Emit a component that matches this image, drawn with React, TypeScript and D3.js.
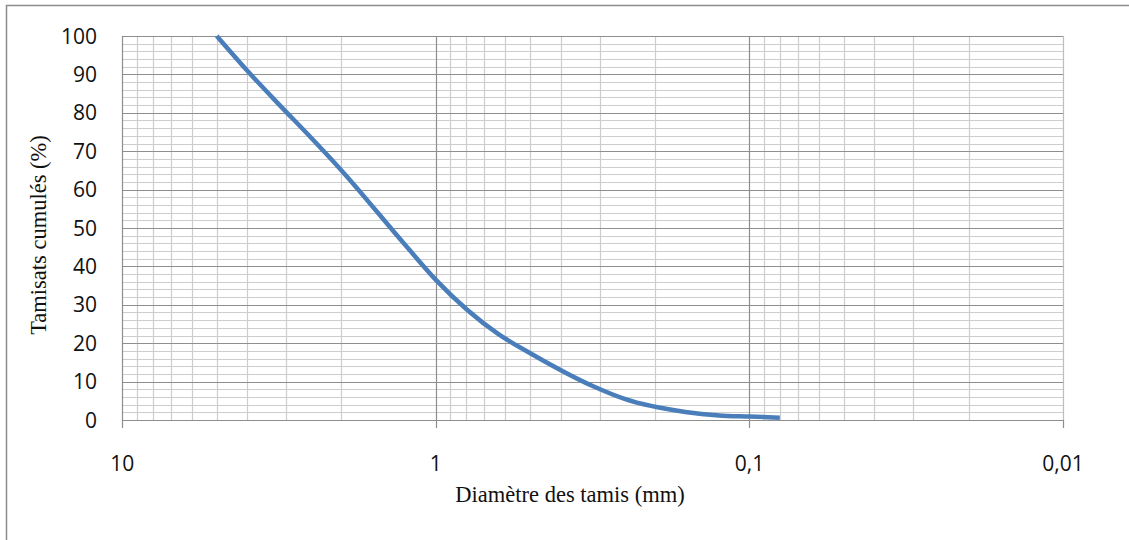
import React, { useRef, useEffect } from 'react'
import * as d3 from 'd3'

// sieve openings (mm) and cumulative passing (%)
const diametres = [5, 4, 3.15, 2.5, 2, 1.25, 1, 0.63, 0.5, 0.315, 0.25, 0.16, 0.125, 0.1, 0.08]
const tamisats = [100, 91, 82, 73.5, 65, 45.5, 36.5, 22.3, 17.4, 8.8, 5.5, 2.1, 1.2, 0.9, 0.6]

const xTicks = [10, 1, 0.1, 0.01]
const xTickLabels = ['10', '1', '0,1', '0,01']
const yTicks = [0, 10, 20, 30, 40, 50, 60, 70, 80, 90, 100]

const W = 1129
const H = 540

const Chart = () => {
  const svgRef = useRef<SVGSVGElement>(null)

  // plot area in pixels
  const left = 122.3
  const right = 1063
  const top = 36
  const bottom = 420

  useEffect(() => {
    const svg = d3.select(svgRef.current)
    svg.selectAll('*').remove()

    const x = d3.scaleLog().domain([10, 0.01]).range([left, right])
    const y = d3.scaleLinear().domain([0, 100]).range([bottom, top])

    // outer chart frame (right/bottom edges fall outside the picture)
    svg.append('rect')
      .attr('x', 6.5).attr('y', 5.5)
      .attr('width', W).attr('height', H)
      .attr('fill', 'white')
      .attr('stroke', '#8c8c8c')
      .attr('stroke-width', 1.5)

    const grid = svg.append('g')

    // minor horizontal lines every 2 %
    const yMinor = d3.range(2, 100, 2).filter((v) => v % 10 !== 0)
    grid.selectAll('.hmin')
      .data(yMinor)
      .join('line')
      .attr('x1', left).attr('x2', right)
      .attr('y1', (d) => Math.round(y(d)) + 0.5)
      .attr('y2', (d) => Math.round(y(d)) + 0.5)
      .attr('stroke', '#cdcdcd')
      .attr('stroke-width', 1.2)

    // minor vertical lines 2..9 of every decade
    const xMinor: number[] = []
    ;[0.01, 0.1, 1].forEach((dec) => {
      for (let k = 2; k <= 9; k++) xMinor.push(dec * k)
    })
    grid.selectAll('.vmin')
      .data(xMinor)
      .join('line')
      .attr('x1', (d) => Math.round(x(d)) + 0.5)
      .attr('x2', (d) => Math.round(x(d)) + 0.5)
      .attr('y1', top).attr('y2', bottom)
      .attr('stroke', '#cdcdcd')
      .attr('stroke-width', 1.2)

    // major horizontal lines
    grid.selectAll('.hmaj')
      .data(yTicks)
      .join('line')
      .attr('x1', left).attr('x2', right)
      .attr('y1', (d) => Math.round(y(d)) + 0.5)
      .attr('y2', (d) => Math.round(y(d)) + 0.5)
      .attr('stroke', '#8e8e8e')
      .attr('stroke-width', 1.2)

    // major vertical lines at the decades
    grid.selectAll('.vmaj')
      .data(xTicks)
      .join('line')
      .attr('x1', (d) => Math.round(x(d)) + 0.5)
      .attr('x2', (d) => Math.round(x(d)) + 0.5)
      .attr('y1', top).attr('y2', bottom)
      .attr('stroke', (d) => (d === 0.01 ? '#bdbdbd' : '#8e8e8e'))
      .attr('stroke-width', 1.2)

    // x tick marks below the axis
    grid.selectAll('.xtick')
      .data(xTicks)
      .join('line')
      .attr('x1', (d) => Math.round(x(d)) + 0.5)
      .attr('x2', (d) => Math.round(x(d)) + 0.5)
      .attr('y1', bottom).attr('y2', bottom + 8)
      .attr('stroke', '#8e8e8e')
      .attr('stroke-width', 1.2)

    // tick labels
    svg.selectAll('.ylab')
      .data(yTicks)
      .join('text')
      .attr('x', 97)
      .attr('y', (d) => y(d))
      .attr('dy', '0.36em')
      .attr('text-anchor', 'end')
      .attr('font-family', '"Open Sans", sans-serif')
      .attr('font-size', 21)
      .attr('fill', '#111')
      .text((d) => d)

    svg.selectAll('.xlab')
      .data(xTicks)
      .join('text')
      .attr('x', (d) => x(d))
      .attr('y', 463)
      .attr('dy', '0.36em')
      .attr('text-anchor', 'middle')
      .attr('font-family', '"Open Sans", sans-serif')
      .attr('font-size', 21)
      .attr('fill', '#111')
      .text((d, i) => xTickLabels[i])

    // axis titles
    svg.append('text')
      .attr('x', 570)
      .attr('y', 494)
      .attr('dy', '0.35em')
      .attr('text-anchor', 'middle')
      .attr('font-family', '"Liberation Serif", "Times New Roman", serif')
      .attr('font-size', 22.5)
      .attr('fill', '#111')
      .text('Diamètre des tamis (mm)')

    svg.append('text')
      .attr('transform', 'translate(38,235) rotate(-90)')
      .attr('dy', '0.35em')
      .attr('text-anchor', 'middle')
      .attr('font-family', '"Liberation Serif", "Times New Roman", serif')
      .attr('font-size', 22.5)
      .attr('fill', '#111')
      .text('Tamisats cumulés (%)')

    // grading curve, smoothed like the spreadsheet line
    const pts = diametres.map((d, i) => [x(d), y(tamisats[i])] as [number, number])
    const line = d3.line().curve(d3.curveMonotoneX)
    svg.append('path')
      .attr('d', line(pts))
      .attr('fill', 'none')
      .attr('stroke', '#4a7ebb')
      .attr('stroke-width', 4.5)
      .attr('stroke-linecap', 'butt')
  }, [])

  return (
    <svg
      ref={svgRef}
      width={W}
      height={H}
      style={{ position: 'absolute', left: 0, top: 0, background: 'white' }}
    />
  )
}

export default function App() {
  return <Chart />
}
